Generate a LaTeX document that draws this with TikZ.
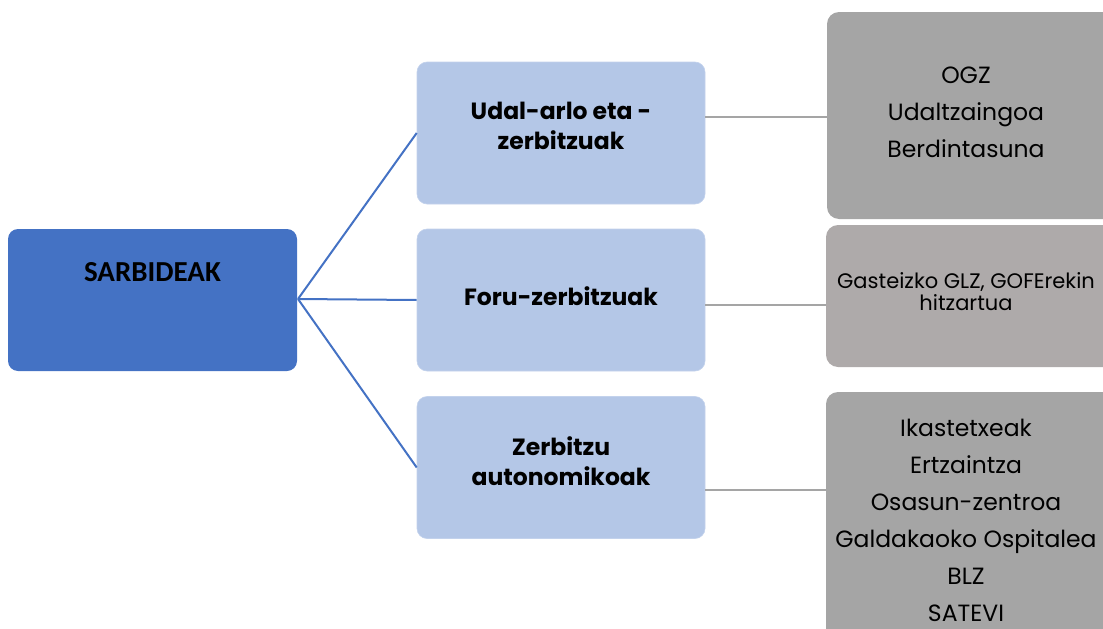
\documentclass[tikz,border=0pt]{standalone}
\usepackage{fontspec}
\setmainfont{Poppins}
\newfontfamily\carl{Carlito}
\begin{document}
\begin{tikzpicture}[x=1pt,y=-1pt,
  rootbox/.style={draw=none,fill=rootblue,rounded corners=10pt,minimum width=289pt,minimum height=142pt,inner sep=0pt},
  midbox/.style={draw=midblue!80!white,line width=0.6pt,fill=midblue,rounded corners=10pt,minimum width=288pt,minimum height=142pt,inner sep=0pt},
  graybox/.style={draw=none,fill=grayA,rounded corners=12pt},
  blueline/.style={draw=rootblue,line width=2pt},
  grayline/.style={draw=lineGray,line width=2.4pt},
  midtext/.style={font=\fontsize{23.5}{29.5}\selectfont\bfseries,align=center},
  rtext/.style={font=\fontsize{23.5}{37}\selectfont,align=center},
]
\definecolor{rootblue}{HTML}{4472C4}
\definecolor{midblue}{HTML}{B4C7E7}
\definecolor{grayA}{HTML}{A5A5A5}
\definecolor{grayB}{HTML}{AEAAAA}
\definecolor{lineGray}{HTML}{A5A5A5}
\useasboundingbox (0,0) rectangle (1103,629);
% right gray boxes
\path[graybox] (827,12) rectangle (1125,219);
\path[graybox,fill=grayB] (826,225) rectangle (1125,367);
\path[graybox] (826,392) rectangle (1125,660);
\coordinate (ra) at (827,117);
\coordinate (rb) at (826,305);
\coordinate (rc) at (826,490);
% root
\node[rootbox] (root) at (152.5,300) {};
\node[font=\carl\fontsize{29}{30}\selectfont\bfseries] (roott) at (152.5,272) {SARBIDEAK};
% mid
\node[midbox] (m1) at (561,133) {};
\node[midbox] (m2) at (561,300) {};
\node[midbox] (m3) at (561,467.5) {};
\node[midtext] (t1) at (561,126) {Udal-arlo eta -\\zerbitzuak};
\node[midtext] (t2) at (561,296) {Foru-zerbitzuak};
\node[midtext] (t3) at (561,461) {Zerbitzu\\autonomikoak};
% connectors
\coordinate (rootE) at (298,299);
\draw[blueline] (rootE) -- (m1.west);
\draw[blueline] (rootE) -- (m2.west);
\draw[blueline] (rootE) -- (m3.west);
\draw[grayline] (m1.east |- ra) -- (ra);
\draw[grayline] (m2.east |- rb) -- (rb);
\draw[grayline] (m3.east |- rc) -- (rc);
% right texts
\node[rtext] (ta) at (966,112) {OGZ\\Udaltzaingoa\\Berdintasuna};
\node[font=\fontsize{21}{22}\selectfont,align=center] (tb) at (966,292) {Gasteizko GLZ, GOFErekin\\hitzartua};
\node[rtext] (tc) at (966,520) {Ikastetxeak\\Ertzaintza\\Osasun-zentroa\\Galdakaoko Ospitalea\\BLZ\\SATEVI};
\end{tikzpicture}
\end{document}
